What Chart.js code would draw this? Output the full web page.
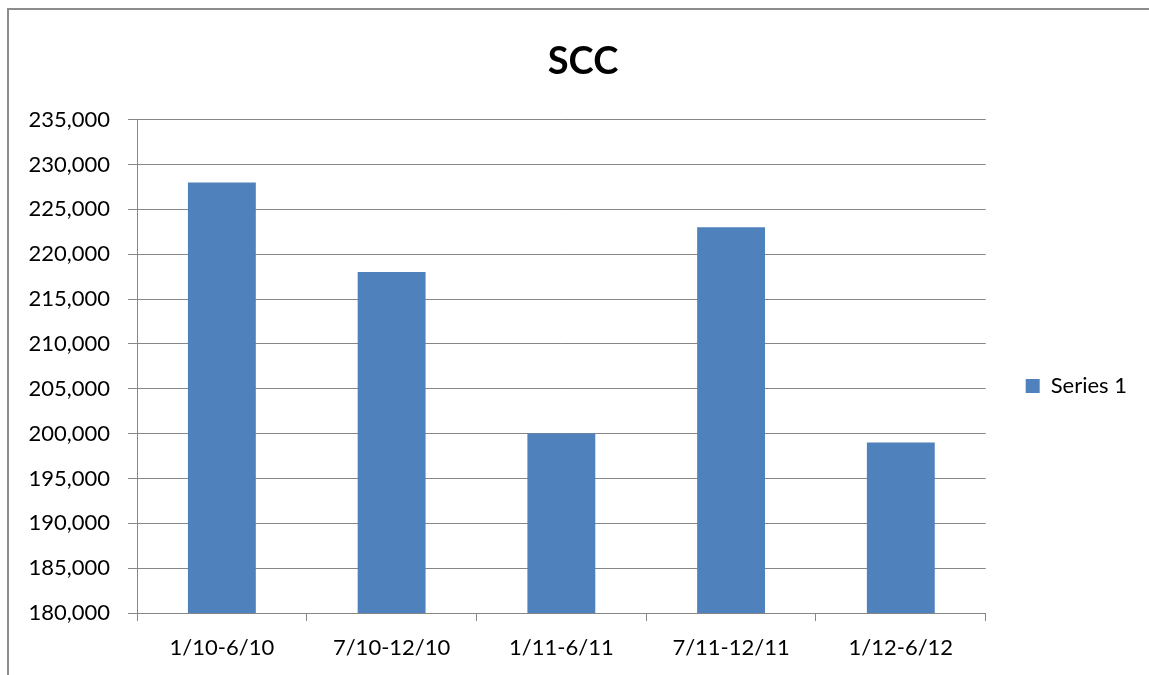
<!DOCTYPE html>
<html>
<head>
<meta charset="utf-8">
<script src="https://cdn.jsdelivr.net/npm/chart.js@4"></script>
<style>
  html, body { margin: 0; padding: 0; background: #fff; overflow: hidden; }
  #wrap { position: absolute; left: 0; top: 0; width: 1149px; height: 675px; }
  #frame { position: absolute; left: 7px; top: 8px; width: 1200px; height: 700px;
           border-left: 2px solid #8c8c8c; border-top: 2px solid #8c8c8c; }
  canvas { position: absolute; left: 0; top: 0; }
</style>
</head>
<body>
<div id="wrap">
  <div id="frame"></div>
  <canvas id="scc-chart" width="1149" height="675"></canvas>
</div>
<script>
// values
const categories = ['1/10-6/10', '7/10-12/10', '1/11-6/11', '7/11-12/11', '1/12-6/12'];
const series1 = [228000, 218000, 200000, 223000, 199000];
const seriesName = 'Series 1';
const yMin = 180000;
const yMax = 235000;
const yStep = 5000;

const FONT = 'Lato, "Open Sans", sans-serif';
const GRID = '#868686';

const ctx = document.getElementById('scc-chart').getContext('2d');
new Chart(ctx, {
  type: 'bar',
  data: {
    labels: categories,
    datasets: [{
      label: seriesName,
      data: series1,
      backgroundColor: '#4f81bd',
      borderWidth: 0,
      barPercentage: 0.4,
      categoryPercentage: 1.0,
    }],
  },
  options: {
    responsive: false,
    animation: false,
    layout: { padding: { left: 29, right: 12, top: 0, bottom: 0 } },
    plugins: {
      title: {
        display: true,
        text: 'SCC',
        color: '#000',
        font: { family: FONT, size: 38, weight: 'bold' },
        padding: { top: 39, bottom: 35 },
      },
      legend: {
        display: true,
        position: 'right',
        // blank legend title only nudges the entry down to where Excel puts it
        title: { display: true, text: ' ', font: { size: 81 }, padding: 0 },
        labels: {
          color: '#000',
          font: { family: FONT, size: 22 },
          boxWidth: 14,
          boxHeight: 14,
          padding: 40,
        },
      },
      tooltip: { enabled: false },
    },
    scales: {
      x: {
        afterFit: s => { s.height = 62; },
        grid: {
          offset: true,
          drawOnChartArea: false,
          drawTicks: true,
          tickLength: 8,
          color: GRID,
        },
        border: { color: GRID, width: 1 },
        ticks: { color: '#000', font: { family: FONT, size: 22 }, padding: 14, maxRotation: 0 },
      },
      y: {
        min: yMin,
        max: yMax,
        afterFit: s => { s.width = 108; },
        grid: { color: GRID, tickLength: 9 },
        border: { color: GRID, width: 1 },
        ticks: {
          stepSize: yStep,
          color: '#000',
          font: { family: FONT, size: 22 },
          padding: 18,
          callback: v => v.toLocaleString('en-US'),
        },
      },
    },
  },
});
</script>
</body>
</html>
